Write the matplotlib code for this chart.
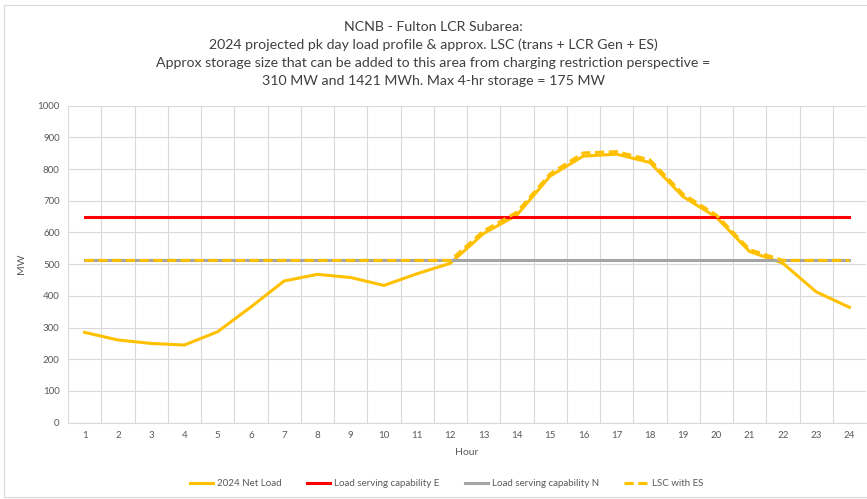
"""NCNB - Fulton LCR subarea peak day load profile vs load serving capability."""

import matplotlib

matplotlib.use("Agg")
import matplotlib.pyplot as plt
from matplotlib.patches import Rectangle
from matplotlib.ticker import MultipleLocator

hours = list(range(1, 25))
net_load = [285, 261, 250, 245, 287, 365, 447, 468, 458, 433, 470, 503,
            597, 655, 778, 841, 847, 821, 713, 648, 540, 503, 413, 364]
lsc_e = [650] * 24
lsc_n = [512] * 24
lsc_with_es = [512, 512, 512, 512, 512, 512, 512, 512, 512, 512, 512, 512,
               605, 664, 785, 851, 855, 829, 721, 655, 546, 512, 512, 512]

title = ("NCNB - Fulton LCR Subarea:\n"
         "2024 projected pk day load profile & approx. LSC (trans + LCR Gen + ES)\n"
         "Approx storage size that can be added to this area from charging restriction perspective =\n"
         "310 MW and 1421 MWh. Max 4-hr storage = 175 MW")

plt.rcParams["font.family"] = ["Lato", "DejaVu Sans"]
TEXT = "#595959"
GRID = "#D9D9D9"

fig = plt.figure(figsize=(8.67, 4.99), dpi=100)
ax = fig.add_axes([68 / 867, 1 - 422.7 / 499, 798 / 867, 317 / 499])

ax.plot(hours, net_load, color="#FFC000", linewidth=2.2, label="2024 Net Load", zorder=3)
ax.plot(hours, lsc_e, color="#FF0000", linewidth=2.2, label="Load serving capability E", zorder=3)
ax.plot(hours, lsc_n, color="#A5A5A5", linewidth=2.2, label="Load serving capability N", zorder=3)
ax.plot(hours, lsc_with_es, color="#FFC000", linewidth=2.2, linestyle=(0, (3, 1.5)),
        label="LSC with ES", zorder=4)

ax.set_xlim(0.5, 24.5)
ax.set_ylim(0, 1000)
ax.set_xticks(hours)
ax.xaxis.set_minor_locator(MultipleLocator(1, offset=0.5))
ax.yaxis.set_major_locator(MultipleLocator(100))
ax.grid(True, which="minor", axis="x", color=GRID, linewidth=0.8)
ax.grid(True, which="major", axis="y", color=GRID, linewidth=0.8)
ax.set_axisbelow(True)
ax.tick_params(which="both", length=0, labelsize=7, labelcolor=TEXT, pad=6)
for side in ["top", "right", "left"]:
    ax.spines[side].set_visible(False)
ax.spines["bottom"].set_color(GRID)

ax.set_xlabel("Hour", fontsize=7.5, color=TEXT, labelpad=6)
ax.set_ylabel("MW", fontsize=7.5, color=TEXT, labelpad=8)

fig.text(0.5, 1 - 54 / 499, title, ha="center", va="center", fontsize=10.2,
         color="#404040", linespacing=1.6)

fig.legend(loc="center", bbox_to_anchor=(0.515, 1 - 484 / 499), ncol=4, frameon=False,
           fontsize=7, labelcolor=TEXT, handlelength=2.4, columnspacing=2.6,
           handletextpad=0.4)

fig.patches.append(Rectangle((4 / 867, 0.004), 0.999, 0.985, transform=fig.transFigure,
                             fill=False, edgecolor="#D9D9D9", linewidth=0.8))

fig.savefig("out.png", dpi=100)
